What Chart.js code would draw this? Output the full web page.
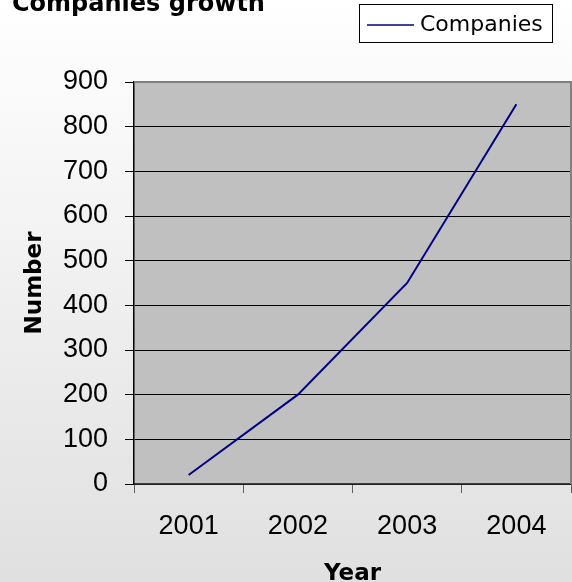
<!DOCTYPE html>
<html>
<head>
<meta charset="utf-8">
<script src="https://cdn.jsdelivr.net/npm/chart.js@4/dist/chart.umd.min.js"></script>
<style>
html,body{margin:0;padding:0;background:#fff;}
#wrap{width:572px;height:582px;}
</style>
</head>
<body>
<div id="wrap"><canvas id="c" width="572" height="582"></canvas></div>
<script>
const chartTitle = "Companies growth";
const categories = ["2001", "2002", "2003", "2004"];
const seriesName = "Companies";
const companies = [20, 200, 450, 850];
const yTicks = [0, 100, 200, 300, 400, 500, 600, 700, 800, 900];
const xAxisTitle = "Year";
const yAxisTitle = "Number";

const decor = {
  id: 'decor',
  beforeDraw(chart) {
    const ctx = chart.ctx, a = chart.chartArea;
    ctx.save();
    const g = ctx.createLinearGradient(0, 0, 0, chart.height);
    g.addColorStop(0, '#ffffff');
    g.addColorStop(1, '#e0e0e0');
    ctx.fillStyle = g;
    ctx.fillRect(0, 0, chart.width, chart.height);
    ctx.fillStyle = '#c0c0c0';
    ctx.fillRect(a.left, a.top, a.right - a.left, a.bottom - a.top);
    ctx.restore();
  },
  afterDatasetsDraw(chart) {
    const ctx = chart.ctx, a = chart.chartArea;
    ctx.save();
    ctx.strokeStyle = '#808080';
    ctx.lineWidth = 2;
    ctx.beginPath();
    ctx.moveTo(a.left, a.top);
    ctx.lineTo(a.right, a.top);
    ctx.lineTo(a.right, a.bottom);
    ctx.stroke();
    ctx.fillStyle = '#000';
    ctx.font = 'bold 24px "DejaVu Sans"';
    ctx.textBaseline = 'alphabetic';
    ctx.textAlign = 'left';
    ctx.fillText(chartTitle, 12, 11);
    ctx.fillStyle = '#ffffff';
    ctx.fillRect(359.5, 4.5, 193, 38);
    ctx.strokeStyle = '#000';
    ctx.lineWidth = 1;
    ctx.strokeRect(359.5, 4.5, 193, 38);
    ctx.strokeStyle = '#000080';
    ctx.lineWidth = 1.5;
    ctx.beginPath();
    ctx.moveTo(367, 25);
    ctx.lineTo(414, 25);
    ctx.stroke();
    ctx.fillStyle = '#000';
    ctx.font = '22px "DejaVu Sans"';
    ctx.textBaseline = 'middle';
    ctx.fillText(chart.data.datasets[0].label, 420, 25);
    ctx.restore();
  }
};

new Chart(document.getElementById('c'), {
  type: 'line',
  data: {
    labels: categories,
    datasets: [{
      label: seriesName,
      data: companies,
      borderColor: '#000080',
      borderWidth: 2,
      pointRadius: 0,
      tension: 0,
      fill: false
    }]
  },
  options: {
    responsive: false,
    animation: false,
    devicePixelRatio: 1,
    layout: { padding: { top: 82, right: 1, left: 0, bottom: 0 } },
    plugins: {
      legend: { display: false },
      title: { display: false },
      tooltip: { enabled: false }
    },
    scales: {
      x: {
        type: 'category',
        offset: true,
        grid: {
          offset: true,
          drawOnChartArea: false,
          drawTicks: true,
          tickLength: 9,
          color: '#606060',
          lineWidth: 1
        },
        border: { display: true, color: '#404040', width: 1.5 },
        ticks: {
          color: '#000',
          font: { family: '"Liberation Sans", Arial', size: 27 },
          padding: 17,
          maxRotation: 0
        },
        title: {
          display: true,
          text: xAxisTitle,
          color: '#000',
          font: { family: '"DejaVu Sans"', size: 23, weight: 'bold', lineHeight: 0.68 },
          padding: { top: 0, bottom: 0 }
        },
        afterFit(s) { s.height = 98; }
      },
      y: {
        min: 0,
        max: 900,
        afterBuildTicks(s) { s.ticks = yTicks.map(v => ({ value: v })); },
        grid: {
          color: '#000',
          lineWidth: 1,
          tickLength: 9,
          drawTicks: true
        },
        border: { display: true, color: '#000', width: 1.5 },
        ticks: {
          color: '#000',
          font: { family: '"Liberation Sans", Arial', size: 27 },
          padding: 17
        },
        title: {
          display: true,
          text: yAxisTitle,
          color: '#000',
          font: { family: '"DejaVu Sans"', size: 23, weight: 'bold', lineHeight: 1.2 },
          padding: { top: 21, bottom: 0 }
        },
        afterFit(s) { s.width = 134; }
      }
    }
  },
  plugins: [decor]
});
</script>
</body>
</html>
